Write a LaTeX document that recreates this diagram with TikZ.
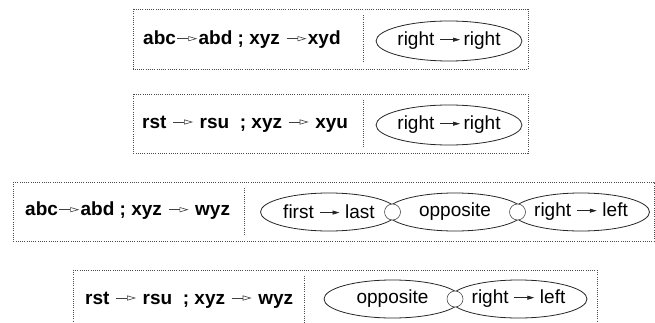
\documentclass[tikz,border=0pt]{standalone}
\usepackage{fontspec}
\setmainfont{Liberation Sans}
\usetikzlibrary{shapes.geometric,arrows.meta}
\newcommand{\oarr}{\kern1pt\tikz[baseline=-0.62ex]\draw[line width=0.7pt,draw=black!75,-{Triangle[open,length=9pt,width=5pt,line width=0.6pt]}] (0pt,0pt)--(20pt,0pt);\kern1pt}
\newcommand{\farr}{\tikz[baseline=-0.62ex]\draw[line width=0.8pt,draw=black!85,-{Triangle[length=7pt,width=4pt]}] (0pt,0pt)--(20pt,0pt);}
\tikzset{
  dotbox/.style={draw=black!70,line width=0.7pt,dash pattern=on 0.9pt off 1.3pt},
  lefttext/.style={anchor=west,inner sep=0pt,font=\fontsize{19}{21}\selectfont\bfseries},
  oval/.style={ellipse,draw=black!85,line width=0.8pt,minimum width=137pt,minimum height=38pt,inner sep=0pt,font=\fontsize{19}{21}\selectfont},
  smalloval/.style={oval,minimum width=128pt,minimum height=40pt},
  joint/.style={circle,draw=black!70,fill=white,line width=0.6pt,minimum size=16pt,inner sep=0pt}
}
\begin{document}
\begin{tikzpicture}[x=1pt,y=-1pt]
\useasboundingbox (0,0) rectangle (655,323);
% box 1
\draw[dotbox] (133,9) rectangle (528,69);
\draw[dotbox] (363,15) -- (363,63);
\node[lefttext] (t1) at (143,40) {abc\oarr abd ; xyz \oarr xyd};
\node[smalloval] (e1) at (449,41) {right \farr\,right};
% box 2
\draw[dotbox] (133,94) rectangle (528,153);
\draw[dotbox] (363,100) -- (363,147);
\node[lefttext] (t2) at (142,124) {rst \oarr\ rsu\ \ ; xyz \oarr\ xyu};
\node[smalloval] (e2) at (449,125) {right \farr\,right};
% box 3
\draw[dotbox] (13,182) rectangle (654,241);
\draw[dotbox] (244,188) -- (244,236);
\node[lefttext] (t3) at (25,211) {abc\oarr abd ; xyz \oarr\ wyz};
\node[oval] (e3a) at (329,212) {first \farr\ last};
\node[oval] (e3b) at (455,212) {opposite};
\node[oval] (e3c) at (581,212) {right \farr\ left};
\node[joint] (j3a) at (392.5,212) {};
\node[joint] (j3b) at (517.5,212) {};
% box 4
\draw[dotbox] (73,270) -- (597,270);
\draw[dotbox] (73,270) -- (73,330);
\draw[dotbox] (597,270) -- (597,330);
\draw[dotbox] (304,276) -- (304,330);
\node[lefttext] (t4) at (85,300) {rst \oarr\ rsu\ \ ; xyz \oarr\ wyz};
\node[oval] (e4a) at (392.5,299) {opposite};
\node[oval] (e4b) at (518.5,299) {right \farr\ left};
\node[joint] (j4) at (455,299) {};
\end{tikzpicture}
\end{document}
